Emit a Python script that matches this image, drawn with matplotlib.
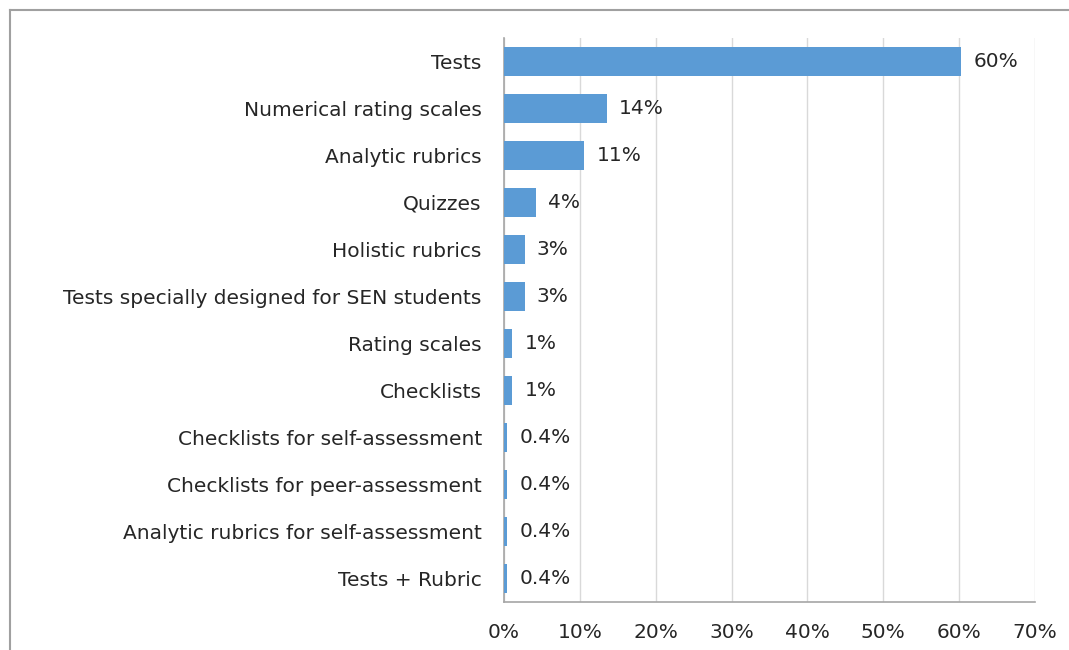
import matplotlib
matplotlib.use("Agg")
import matplotlib.pyplot as plt
from matplotlib.lines import Line2D

categories = [
    "Tests",
    "Numerical rating scales",
    "Analytic rubrics",
    "Quizzes",
    "Holistic rubrics",
    "Tests specially designed for SEN students",
    "Rating scales",
    "Checklists",
    "Checklists for self-assessment",
    "Checklists for peer-assessment",
    "Analytic rubrics for self-assessment",
    "Tests + Rubric",
]
values = [60.3, 13.6, 10.6, 4.2, 2.7, 2.7, 1.1, 1.1, 0.4, 0.4, 0.4, 0.4]
value_labels = ["60%", "14%", "11%", "4%", "3%", "3%", "1%", "1%",
                "0.4%", "0.4%", "0.4%", "0.4%"]
xticks = [0, 10, 20, 30, 40, 50, 60, 70]

plt.rcParams["font.family"] = ["DejaVu Sans"]

fig = plt.figure(figsize=(10.69, 6.5), dpi=100)
ax = fig.add_axes([0.4715, 0.074, 0.4965, 0.8675])

ypos = list(range(len(categories)))
ax.barh(ypos, values, height=0.6, color="#5B9BD5", zorder=3)
ax.set_ylim(len(categories) - 0.5, -0.5)
ax.set_xlim(0, 70)

for y, v, lab in zip(ypos, values, value_labels):
    ax.text(v + 1.6, y, lab, va="center", ha="left", fontsize=14.5, color="#262626")

ax.set_yticks(ypos)
ax.set_yticklabels(categories, fontsize=14.5, color="#262626")
ax.set_xticks(xticks)
ax.set_xticklabels([f"{t}%" for t in xticks], fontsize=14.5, color="#262626")
ax.tick_params(length=0)
ax.tick_params(axis="x", pad=15)
ax.tick_params(axis="y", pad=16)

ax.grid(axis="x", color="#D9D9D9", linewidth=1, zorder=0)
for s in ("top", "right"):
    ax.spines[s].set_visible(False)
for s in ("left", "bottom"):
    ax.spines[s].set_color("#A6A6A6")
    ax.spines[s].set_linewidth(1.2)

# frame of the chart area: only top and left edges are visible in the crop
fig.add_artist(Line2D([0.009, 1.0], [0.985, 0.985], transform=fig.transFigure,
                      color="#A0A0A0", linewidth=1.5))
fig.add_artist(Line2D([0.009, 0.009], [0.0, 0.985], transform=fig.transFigure,
                      color="#A0A0A0", linewidth=1.5))

fig.savefig("out.png", dpi=100)
